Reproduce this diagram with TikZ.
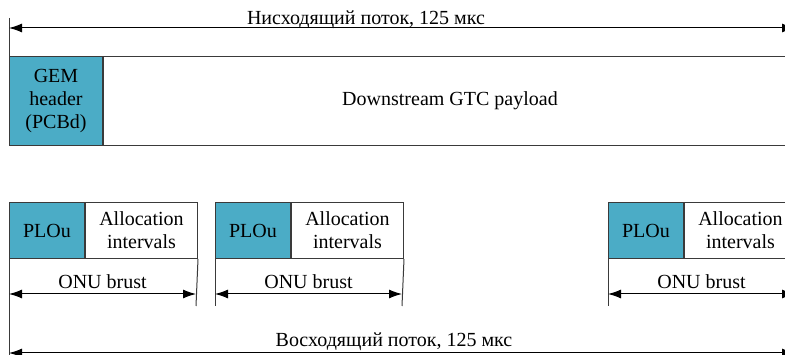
\documentclass[tikz,border=0pt]{standalone}
\usepackage{fontspec}
\setmainfont{Liberation Serif}
\usepackage{tikz}
\usetikzlibrary{arrows.meta}
\definecolor{gemblue}{HTML}{4BACC6}
\definecolor{framegray}{HTML}{3A3A3A}
\tikzset{field/.style={anchor=north west, draw=framegray, inner sep=0pt, align=center, minimum height=56pt}}
\tikzset{span/.style={{Latex[length=13pt,width=9pt]}-{Latex[length=13pt,width=9pt]}}}
\newcommand{\ponspan}[3] {\draw [span] (#1) -- (#2) node [midway, anchor=base, yshift=5pt] {#3};}
\newcommand{\ponburst}[2] {
\node at (#1,202) (plou#2) [field, fill=gemblue, minimum width=75pt] {PLOu};
\node at (plou#2.north east) (alloc#2) [field, minimum width=112pt] {Allocation\\intervals};
\coordinate (lo#2) at (#1,306);
\coordinate (ro#2) at ({#1+187},306);
\coordinate (la#2) at (#1,294);
\coordinate (ra#2) at ({#1+187},294);
\draw [framegray] (plou#2.south west) -- (lo#2);
\draw [framegray] (alloc#2.south east) -- (ro#2);
\ponspan {la#2} {ra#2} {ONU brust};
}

\begin{document}
\begin{tikzpicture}[x=1pt, y=-1pt, line width=1pt, font=\fontsize{20}{23}\selectfont]
\useasboundingbox (0,0) rectangle (785,355);
\clip (0,0) rectangle (785,355);

% downstream frame
\node at (9,56) (gem) [field, fill=gemblue, minimum width=93pt, minimum height=89pt] {GEM\\header\\(PCBd)};
\node at (gem.north east) (payload) [field, minimum width=693pt, minimum height=89pt] {Downstream GTC payload};
\coordinate (dntop) at (9,18);
\coordinate (dnw) at (9,28);
\coordinate (dne) at (795,28);
\draw [framegray] (dntop) -- (gem.north west);
\ponspan {dnw} {dne} {};
\node at (366,25) (dnlabel) [anchor=base] {Нисходящий поток, 125 мкс};

% upstream bursts
\ponburst {9} {1};
\ponburst {215} {2};
\ponburst {608} {3};

\coordinate (upbase) at (9,355);
\coordinate (upw) at (9,353);
\coordinate (upe) at (795,353);
\draw [framegray] (lo1) -- (upbase);
\ponspan {upw} {upe} {};
\node at (394,347) (uplabel) [anchor=base] {Восходящий поток, 125 мкс};
\end{tikzpicture}
\end{document}
